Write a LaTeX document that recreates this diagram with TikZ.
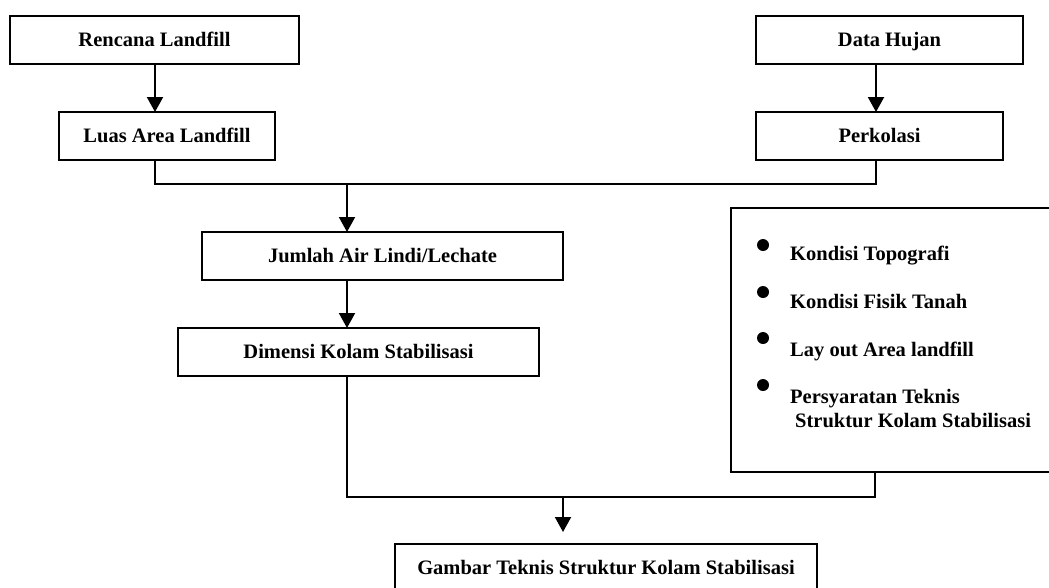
\documentclass[tikz,border=0pt]{standalone}
\usepackage{fontspec}
\setmainfont{Liberation Serif}
\usetikzlibrary{arrows.meta}
\begin{document}
\begin{tikzpicture}[x=1pt,y=-1pt,
  font=\fontsize{20.5}{24}\selectfont\bfseries,
  box/.style={draw,line width=2pt,inner sep=0pt,outer sep=0pt,minimum height=48pt,text height=15pt,text depth=2pt},
  arr/.style={line width=2pt,-{Triangle[length=15pt,width=16pt]}},
  link/.style={line width=1.3pt},
  dot/.style={circle,fill,inner sep=0pt,minimum size=12pt},
  item/.style={anchor=base west,inner sep=0pt}]
\useasboundingbox (0,0) rectangle (1049,587);
\clip (0,0) rectangle (1049,587);
\node[box,minimum width=289pt] (rl) at (154.5,40) {Rencana Landfill};
\node[box,minimum width=216pt] (la) at (167,136) {Luas Area Landfill};
\node[box,minimum width=267pt] (dh) at (889.5,40) {Data Hujan};
\node[box,minimum width=247pt] (pk) at (879.5,136) {Perkolasi};
\node[box,minimum width=361pt] (ja) at (382.5,256) {Jumlah Air Lindi/Lechate};
\node[box,minimum width=361pt] (dk) at (358.5,352) {Dimensi Kolam Stabilisasi};
\node[box,minimum width=422pt] (gt) at (606,568) {Gambar Teknis Struktur Kolam Stabilisasi};
\node[box,minimum width=334pt,minimum height=264pt] (kb) at (898,340) {};
\node[dot] (b1) at (763,245) {};
\node[dot] (b2) at (763,292) {};
\node[dot] (b3) at (763,338) {};
\node[dot] (b4) at (763,385) {};
\node[item] (t1) at (790,260) {Kondisi Topografi};
\node[item] (t2) at (790,308) {Kondisi Fisik Tanah};
\node[item] (t3) at (790,356) {Lay out Area landfill};
\node[item] (t4) at (790,403) {Persyaratan Teknis};
\node[item] (t5) at (795,427) {Struktur Kolam Stabilisasi};
\coordinate (j1) at (347,184);
\coordinate (j2) at (563,497);
\draw[arr] ([xshift=0.5pt]rl.south) -- ([xshift=0.5pt]rl.south |- la.north);
\draw[arr] ([xshift=-13.5pt]dh.south) -- ([xshift=-13.5pt]dh.south |- pk.north);
\draw[link] ([xshift=-12pt]la.south) |- (j1) -| ([xshift=-3.5pt]pk.south);
\draw[arr] (j1) -- (j1 |- ja.north);
\draw[arr] (ja.south -| j1) -- (dk.north -| j1);
\draw[link] (dk.south -| j1) |- (j2) -| ([xshift=-23pt]kb.south);
\draw[arr] (j2) -- ([yshift=12pt]gt.north -| j2);
\end{tikzpicture}
\end{document}
